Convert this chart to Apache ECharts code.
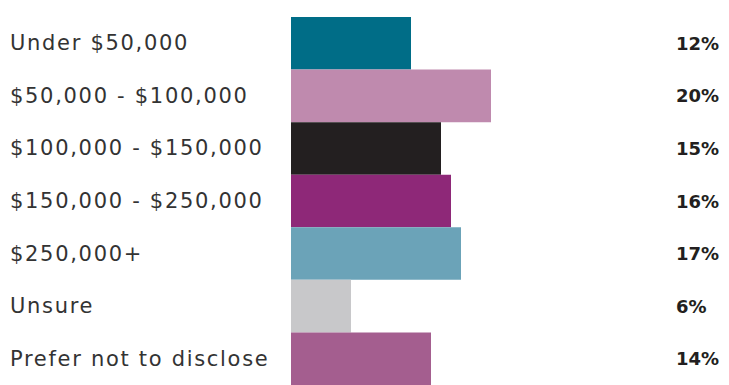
<!DOCTYPE html>
<html>
<head>
<meta charset="utf-8">
<script src="https://cdn.jsdelivr.net/npm/echarts@6/dist/echarts.min.js"></script>
<style>
  html, body { margin: 0; padding: 0; background: #ffffff; }
  #chart { width: 729px; height: 385px; }
  /* open tracking for category names, normal for the bold percentages */
  #chart svg text { letter-spacing: 1.7px; }
  #chart svg text[style*="bold"] { letter-spacing: 0; }
</style>
</head>
<body>
<div id="chart"></div>
<script>
// Household income brackets and share of respondents (%)
const categories = [
  'Under $50,000',
  '$50,000 - $100,000',
  '$100,000 - $150,000',
  '$150,000 - $250,000',
  '$250,000+',
  'Unsure',
  'Prefer not to disclose'
];
const shares = [12, 20, 15, 16, 17, 6, 14];
const barColors = ['#006d87', '#bf8aae', '#231f20', '#8e2878', '#6ba3b8', '#c8c8ca', '#a45e8f'];

const chart = echarts.init(document.getElementById('chart'), null, { renderer: 'svg' });
const fontFamily = '"DejaVu Sans", "Noto Sans", sans-serif';

chart.setOption({
  animation: false,
  grid: { left: 291, right: 61, top: 17, bottom: 0, containLabel: false },
  xAxis: {
    type: 'value', min: 0, max: 37.7,
    show: false
  },
  yAxis: [
    {
      type: 'category', data: categories, inverse: true, position: 'left',
      axisLine: { show: false }, axisTick: { show: false },
      axisLabel: {
        align: 'left', margin: 281, color: '#333333',
        fontSize: 21, fontFamily: fontFamily
      }
    },
    {
      type: 'category', data: shares.map(v => v + '%'), inverse: true, position: 'right',
      axisLine: { show: false }, axisTick: { show: false },
      axisLabel: {
        align: 'left', margin: 8, color: '#231f20',
        fontSize: 18, fontWeight: 'bold', fontFamily: fontFamily
      }
    }
  ],
  series: [{
    type: 'bar',
    yAxisIndex: 0,
    barCategoryGap: 0,
    data: shares.map((v, i) => ({ value: v, itemStyle: { color: barColors[i] } }))
  }]
});
</script>
</body>
</html>
